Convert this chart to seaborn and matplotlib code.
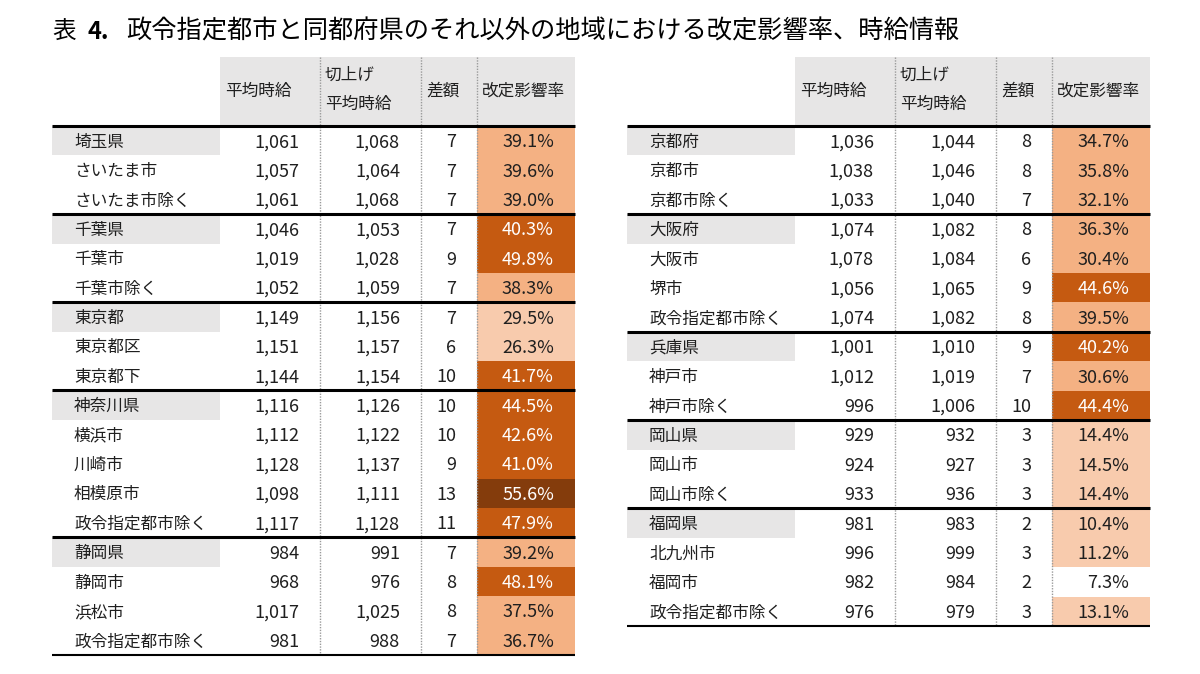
import numpy as np
import matplotlib
matplotlib.use("Agg")
import matplotlib.pyplot as plt
from matplotlib.patches import Rectangle
from matplotlib.colors import ListedColormap, BoundaryNorm
import seaborn as sns

plt.rcParams['font.family'] = ['Noto Sans CJK JP', 'DejaVu Sans']

title_prefix = "表"
title_num = "4."
title_main = "政令指定都市と同都府県のそれ以外の地域における改定影響率、時給情報"

headers = ["平均時給", "切上げ\n平均時給", "差額", "改定影響率"]

left_names = ["埼玉県", "さいたま市", "さいたま市除く",
              "千葉県", "千葉市", "千葉市除く",
              "東京都", "東京都区", "東京都下",
              "神奈川県", "横浜市", "川崎市", "相模原市", "政令指定都市除く",
              "静岡県", "静岡市", "浜松市", "政令指定都市除く"]
left_avg = [1061, 1057, 1061, 1046, 1019, 1052, 1149, 1151, 1144,
            1116, 1112, 1128, 1098, 1117, 984, 968, 1017, 981]
left_up = [1068, 1064, 1068, 1053, 1028, 1059, 1156, 1157, 1154,
           1126, 1122, 1137, 1111, 1128, 991, 976, 1025, 988]
left_diff = [7, 7, 7, 7, 9, 7, 7, 6, 10, 10, 10, 9, 13, 11, 7, 8, 8, 7]
left_rate = [39.1, 39.6, 39.0, 40.3, 49.8, 38.3, 29.5, 26.3, 41.7,
             44.5, 42.6, 41.0, 55.6, 47.9, 39.2, 48.1, 37.5, 36.7]
left_groups = [3, 3, 3, 5, 4]

right_names = ["京都府", "京都市", "京都市除く",
               "大阪府", "大阪市", "堺市", "政令指定都市除く",
               "兵庫県", "神戸市", "神戸市除く",
               "岡山県", "岡山市", "岡山市除く",
               "福岡県", "北九州市", "福岡市", "政令指定都市除く"]
right_avg = [1036, 1038, 1033, 1074, 1078, 1056, 1074, 1001, 1012, 996,
             929, 924, 933, 981, 996, 982, 976]
right_up = [1044, 1046, 1040, 1082, 1084, 1065, 1082, 1010, 1019, 1006,
            932, 927, 936, 983, 999, 984, 979]
right_diff = [8, 8, 7, 8, 6, 9, 8, 9, 7, 10, 3, 3, 3, 2, 3, 2, 3]
right_rate = [34.7, 35.8, 32.1, 36.3, 30.4, 44.6, 39.5, 40.2, 30.6, 44.4,
              14.4, 14.5, 14.4, 10.4, 11.2, 7.3, 13.1]
right_groups = [3, 4, 3, 3, 4]

bin_edges = [0, 10, 30, 40, 50, 100]
bin_colors = ["#FFFFFF", "#F8CBAD", "#F4B183", "#C55A11", "#843C0C"]
cmap = ListedColormap(bin_colors)
norm = BoundaryNorm(bin_edges, cmap.N)

TXT = "#1F1F1F"
GRAY = "#E7E6E6"
col_px = [168, 100, 101, 56, 98]
unit = col_px[-1]
row_px = 29.4
header_px = 69
FS = 12.0
FN = 13.0
DY = 1.5 / row_px


def draw_table(ax, names, avg, up, diff, rate, groups):
    n = len(names)
    data = np.array(rate).reshape(-1, 1)
    sns.heatmap(data, ax=ax, cmap=cmap, norm=norm, cbar=False,
                xticklabels=False, yticklabels=False, linewidths=0)
    widths = [w / unit for w in col_px]
    x0 = -sum(widths[:-1])
    edges = [x0]
    for w in widths:
        edges.append(edges[-1] + w)
    h = header_px / row_px
    ax.set_xlim(x0, 1)
    ax.set_ylim(n, -h)
    ax.axis("off")

    # header background
    ax.add_patch(Rectangle((edges[1], -h), edges[-1] - edges[1], h,
                           facecolor=GRAY, edgecolor="none", zorder=0.5))
    # group starts
    starts = np.cumsum([0] + groups[:-1])
    for s in starts:
        ax.add_patch(Rectangle((edges[0], s), edges[1] - edges[0], 1,
                               facecolor=GRAY, edgecolor="none", zorder=0.5))
    # dotted verticals
    for xe in edges[2:5]:
        ax.plot([xe, xe], [-h, n], color="#9A9A9A", lw=1.0,
                linestyle=(0, (1, 1)), zorder=3, clip_on=False)
    # horizontals
    for s in starts:
        ax.plot([edges[0], edges[-1]], [s, s], color="black", lw=2.2,
                zorder=4, clip_on=False, solid_capstyle="butt")
    ax.plot([edges[0], edges[-1]], [n, n], color="black", lw=1.5,
            zorder=4, clip_on=False, solid_capstyle="butt")

    # header text
    pad_l = 5 / unit
    for j, ht in enumerate(headers):
        xl = edges[j + 1] + pad_l
        if "\n" in ht:
            a, b = ht.split("\n")
            ax.text(xl, -h + 18 / row_px, a, ha="left", va="center",
                    fontsize=FS, color=TXT, zorder=5)
            ax.text(xl, -h + 47 / row_px, b, ha="left", va="center",
                    fontsize=FS, color=TXT, zorder=5)
        else:
            ax.text(xl, -h / 2, ht, ha="left", va="center",
                    fontsize=FS, color=TXT, zorder=5)

    pad_r = 21 / unit
    for i in range(n):
        y = i + 0.5 + DY
        ax.text(edges[0] + 22 / unit, y, names[i], ha="left", va="center",
                fontsize=FS, color=TXT, zorder=5)
        ax.text(edges[2] - pad_r, y, f"{avg[i]:,}", ha="right", va="center",
                fontsize=FN, color=TXT, zorder=5)
        ax.text(edges[3] - pad_r, y, f"{up[i]:,}", ha="right", va="center",
                fontsize=FN, color=TXT, zorder=5)
        ax.text(edges[4] - pad_r, y, f"{diff[i]}", ha="right", va="center",
                fontsize=FN, color=TXT, zorder=5)
        c = "white" if rate[i] >= 40 else TXT
        ax.text(edges[5] - pad_r, y, f"{rate[i]:.1f}%", ha="right",
                va="center", fontsize=FN, color=c, zorder=5)


W, H = 1200, 674
fig = plt.figure(figsize=(W / 100, H / 100), dpi=100)
fig.patch.set_facecolor("white")

axL = fig.add_axes([52 / W, 1 - 655 / H, 523 / W, 598 / H])
axR = fig.add_axes([627 / W, 1 - 626 / H, 523 / W, 569 / H])
draw_table(axL, left_names, left_avg, left_up, left_diff, left_rate, left_groups)
draw_table(axR, right_names, right_avg, right_up, right_diff, right_rate, right_groups)

ty = 1 - 32 / H
fig.text(52 / W, ty, title_prefix, fontsize=17, va="center", ha="left", color="black")
fig.text(88 / W, ty, title_num, fontsize=17, va="center", ha="left",
         color="black", fontweight="bold")
fig.text(126 / W, ty, title_main, fontsize=18.2, va="center", ha="left", color="black")

fig.savefig("out.png", dpi=100, facecolor="white")
